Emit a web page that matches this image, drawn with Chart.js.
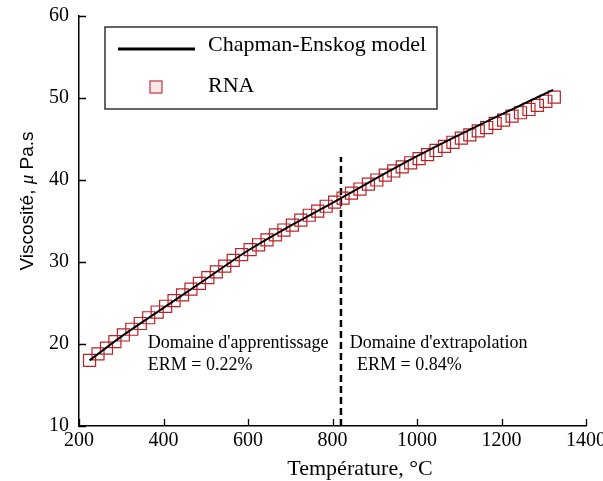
<!DOCTYPE html>
<html>
<head>
<meta charset="utf-8">
<script src="https://cdn.jsdelivr.net/npm/chart.js@4/dist/chart.umd.min.js"></script>
<style>
html,body{margin:0;padding:0;background:#fff;}
#wrap{width:603px;height:481px;}
</style>
</head>
<body>
<div id="wrap"><canvas id="c" width="603" height="481"></canvas></div>
<script>
// ---- Data ----
const rnaTemps = [225,245,265,285,305,325,345,365,385,405,425,445,465,485,505,525,545,565,585,605,
                  625,645,665,685,705,725,745,765,785,805,825,845,865,885,905,925,945,965,985,1005,
                  1025,1045,1065,1085,1105,1125,1145,1165,1185,1205,1225,1245,1265,1285,1305,1325];
const rnaVisc  = [18.0,18.8,19.5,20.3,21.1,21.8,22.5,23.2,23.9,24.6,25.3,26.0,26.7,27.4,28.1,28.8,29.5,30.2,30.9,31.5,
                  32.1,32.7,33.3,33.9,34.5,35.1,35.7,36.2,36.8,37.3,37.8,38.4,38.9,39.5,40.0,40.6,41.1,41.6,42.1,42.6,
                  43.1,43.6,44.1,44.6,45.1,45.5,46.0,46.4,46.9,47.3,47.8,48.2,48.6,49.1,49.6,50.1];
const modelTemps = [225,300,400,500,600,700,800,900,1000,1100,1200,1322];
const modelVisc  = [18.0,20.9,24.4,27.9,31.4,34.4,37.2,40.1,42.9,45.5,48.0,51.0];
const boundaryTemp = [820, 820];
const boundaryVisc = [10, 42.8];
const xRange = [200, 1400, 200];
const yRange = [10, 60, 10];
const seriesLabels = ['Chapman-Enskog model', 'RNA'];
const xTitle = 'Température, °C';
const yTitleParts = ['Viscosité, ', 'μ', ' Pa.s'];
const annotationTexts = ["Domaine d'apprentissage", 'ERM = 0.22%', "Domaine d'extrapolation", 'ERM = 0.84%'];
const annotationAnchors = [[363, 20.1], [363, 17.4], [841, 20.1], [858, 17.4]];

const SERIF = "'Liberation Serif', 'Times New Roman', serif";
const SANS = "'Liberation Sans', Arial, sans-serif";

const toPts = (xs, ys) => xs.map((x, i) => ({x: x, y: ys[i]}));

const inwardTicks = {
  id: 'inwardTicks',
  afterDraw(chart) {
    const ctx = chart.ctx, xs = chart.scales.x, ys = chart.scales.y;
    const a = chart.chartArea;
    ctx.save();
    ctx.strokeStyle = '#000';
    ctx.lineWidth = 1.3;
    ctx.beginPath();
    xs.ticks.forEach(t => {
      const px = Math.round(xs.getPixelForValue(t.value)) + 0.5;
      ctx.moveTo(px, a.bottom); ctx.lineTo(px, a.bottom - 7);
    });
    ys.ticks.forEach(t => {
      const py = Math.round(ys.getPixelForValue(t.value)) + 0.5;
      ctx.moveTo(a.left, py); ctx.lineTo(a.left + 7, py);
    });
    ctx.stroke();
    ctx.restore();
  }
};

const annotationsPlugin = {
  id: 'annot',
  afterDatasetsDraw(chart) {
    const ctx = chart.ctx, xs = chart.scales.x, ys = chart.scales.y;
    ctx.save();
    ctx.fillStyle = '#000';
    ctx.font = '18px ' + SERIF;
    ctx.textAlign = 'left';
    ctx.textBaseline = 'middle';
    annotationTexts.forEach((t, i) => {
      const [vx, vy] = annotationAnchors[i];
      ctx.fillText(t, xs.getPixelForValue(vx), ys.getPixelForValue(vy));
    });
    ctx.restore();
  }
};

const legendPlugin = {
  id: 'customLegend',
  afterDraw(chart) {
    const ctx = chart.ctx, a = chart.chartArea;
    const ds = chart.data.datasets;
    const L = a.left + 26, T = a.top + 11, W = 332, H = 82;
    ctx.save();
    ctx.fillStyle = '#fff';
    ctx.fillRect(L, T, W, H);
    ctx.strokeStyle = '#333';
    ctx.lineWidth = 1.5;
    ctx.strokeRect(L, T, W, H);
    ctx.strokeStyle = ds[0].borderColor;
    ctx.lineWidth = 3;
    ctx.beginPath();
    ctx.moveTo(L + 13, T + 22); ctx.lineTo(L + 90, T + 22);
    ctx.stroke();
    ctx.fillStyle = 'rgba(245,215,220,0.6)';
    ctx.fillRect(L + 45, T + 54, 12, 12);
    ctx.strokeStyle = 'rgb(195,70,80)';
    ctx.lineWidth = 1.3;
    ctx.strokeRect(L + 45, T + 54, 12, 12);
    ctx.fillStyle = '#000';
    ctx.font = '22px ' + SERIF;
    ctx.textAlign = 'left';
    ctx.textBaseline = 'middle';
    ctx.fillText(ds[0].label, L + 103, T + 18);
    ctx.fillText(ds[1].label, L + 103, T + 59);
    ctx.restore();
  }
};

const titlesPlugin = {
  id: 'titles',
  afterDraw(chart) {
    const ctx = chart.ctx, a = chart.chartArea;
    ctx.save();
    ctx.fillStyle = '#000';
    // x title
    ctx.font = '22px ' + SERIF;
    ctx.textAlign = 'center';
    ctx.textBaseline = 'middle';
    ctx.fillText(xTitle, a.left + 281, 469);
    // y title (rotated)
    ctx.translate(28, (a.top + a.bottom) / 2 - 20);
    ctx.rotate(-Math.PI / 2);
    ctx.textAlign = 'left';
    const fonts = ['19px ' + SANS, 'italic 19px ' + SERIF, '19px ' + SANS];
    let total = 0;
    const widths = yTitleParts.map((p, i) => { ctx.font = fonts[i]; const w = ctx.measureText(p).width; total += w; return w; });
    let x = -total / 2;
    yTitleParts.forEach((p, i) => { ctx.font = fonts[i]; ctx.fillText(p, x, 0); x += widths[i]; });
    ctx.restore();
  }
};

new Chart(document.getElementById('c'), {
  type: 'scatter',
  data: {
    datasets: [
      {
        label: seriesLabels[0],
        data: toPts(modelTemps, modelVisc),
        showLine: true,
        borderColor: '#000',
        borderWidth: 2,
        pointRadius: 0,
        cubicInterpolationMode: 'monotone',
        order: 0
      },
      {
        label: seriesLabels[1],
        data: toPts(rnaTemps, rnaVisc),
        showLine: false,
        pointStyle: 'rect',
        pointRadius: 8.5,
        borderColor: 'rgb(185,35,40)',
        borderWidth: 1.2,
        backgroundColor: 'rgba(0,0,0,0)',
        order: 1
      },
      {
        label: 'boundary',
        data: toPts(boundaryTemp, boundaryVisc),
        showLine: true,
        borderColor: '#000',
        borderWidth: 2.5,
        borderDash: [7, 4],
        pointRadius: 0,
        order: 2
      }
    ]
  },
  options: {
    responsive: false,
    animation: false,
    layout: { padding: { top: 16, right: 17, left: 0, bottom: 0 } },
    plugins: { legend: { display: false }, tooltip: { enabled: false } },
    scales: {
      x: {
        type: 'linear',
        min: xRange[0], max: xRange[1],
        ticks: { stepSize: xRange[2], color: '#000', padding: 3, font: { family: SERIF, size: 20 },
                 callback: v => String(v) },
        grid: { display: false, drawTicks: false },
        border: { display: true, color: '#000', width: 1.5 },
        afterFit(s) { s.height = 55; s.paddingLeft = 0; s.paddingRight = 0; }
      },
      y: {
        type: 'linear',
        min: yRange[0], max: yRange[1],
        ticks: { stepSize: yRange[2], color: '#000', padding: 10, font: { family: SERIF, size: 20 },
                 callback: v => String(v) },
        grid: { display: false, drawTicks: false },
        border: { display: true, color: '#000', width: 1.5 },
        afterFit(s) { s.width = 79; s.paddingTop = 0; s.paddingBottom = 0; }
      }
    }
  },
  plugins: [inwardTicks, annotationsPlugin, legendPlugin, titlesPlugin]
});
</script>
</body>
</html>
